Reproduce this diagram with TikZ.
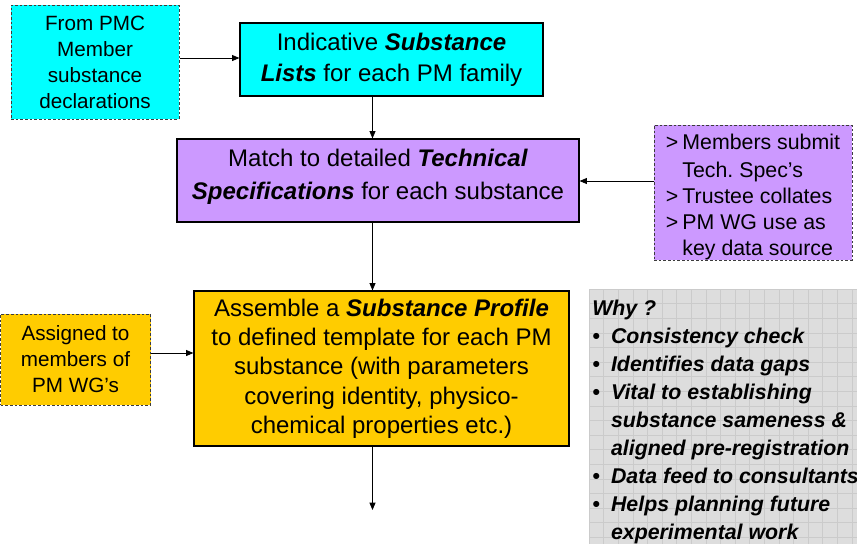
\documentclass[tikz,border=0pt]{standalone}
\usepackage{fontspec}
\setmainfont{Liberation Sans}
\usetikzlibrary{arrows.meta}

\definecolor{boxcyan}{RGB}{0,255,255}
\definecolor{boxlilac}{RGB}{204,153,255}
\definecolor{boxgold}{RGB}{255,204,0}
\definecolor{panelgrey}{RGB}{221,221,221}
\definecolor{gridgrey}{RGB}{203,203,203}
\definecolor{dashgrey}{RGB}{60,60,60}

\begin{document}
\begin{tikzpicture}[x=0.75pt,y=0.75pt,yscale=-1,xscale=1,
  mainbox/.style={draw=black, line width=0.9pt, align=center, inner sep=0pt, font=\fontsize{18}{23.5}\selectfont},
  notebox/.style={draw=dashgrey, line width=0.75pt, dash pattern={on 2pt off 1.5pt}, align=center, inner sep=0pt, font=\fontsize{15.5}{19.5}\selectfont},
  flow/.style={-{Triangle[length=5.5pt,width=4.5pt]}, line width=0.6pt}]
\useasboundingbox (0,0) rectangle (857,544);

%Shape: Grid panel
\fill[panelgrey] (589,289) rectangle (857,544);
\begin{scope}
\clip (589,289) rectangle (857,544);
\draw[gridgrey, line width=0.45pt, step=14.6, shift={(589,289)}] (0,0) grid (268,255);
\end{scope}

%Shape: Rectangle
\node[mainbox, fill=boxcyan, minimum width=227.25pt, minimum height=54.75pt] (sublists) at (391.5,59.5)
  {Indicative \textbf{\textit{Substance}}\\ \textbf{\textit{Lists}} for each PM family};
%Shape: Rectangle
\node[mainbox, fill=boxlilac, minimum width=301.5pt, minimum height=62.25pt, font=\fontsize{18}{24.5}\selectfont] (techspec) at (378,180.5)
  {Match to detailed \textbf{\textit{Technical}}\\ \textbf{\textit{Specifications}} for each substance\\[-15.5pt]};
%Shape: Rectangle
\node[mainbox, fill=boxgold, minimum width=281.25pt, minimum height=116.25pt, font=\fontsize{18}{22}\selectfont] (profile) at (381.5,368.5)
  {Assemble a \textbf{\textit{Substance Profile}}\\ to defined template for each PM\\ substance (with parameters\\ covering identity, physico-\\ chemical properties etc.)};

%Shape: Dashed Rectangle
\node[notebox, fill=boxcyan, minimum width=126pt, minimum height=85.5pt] (pmcdecl) at (95,62)
  {From PMC\\ Member\\ substance\\ declarations};
%Shape: Dashed Rectangle
\node[notebox, fill=boxlilac, minimum width=148.5pt, minimum height=101.25pt, font=\fontsize{16}{19.5}\selectfont] (membersub) at (753,192.5)
  {\raisebox{-3.5pt}[\height][\depth]{\begin{tabular}{@{}l@{\hspace{3pt}}l@{}}
  > & Members submit\\[1.5pt]
    & Tech.\ Spec’s\\
  > & Trustee collates\\
  > & PM WG use as\\
    & key data source
  \end{tabular}}};
%Shape: Dashed Rectangle
\node[notebox, fill=boxgold, minimum width=112.5pt, minimum height=68.25pt] (assigned) at (75.5,359.5)
  {Assigned to\\ members of\\ PM WG’s};

% Text Node
\node[anchor=north west, inner sep=0pt, align=left, font=\fontsize{16}{21}\selectfont\bfseries\itshape] (whylist) at (592,296)
  {\begin{tabular}{@{}l@{\hspace{8.5pt}}l@{}}
  \multicolumn{2}{@{}l}{Why ?}\\
  \textbullet & Consistency check\\
  \textbullet & Identifies data gaps\\
  \textbullet & Vital to establishing\\
              & substance sameness \&\\
              & aligned pre-registration\\
  \textbullet & Data feed to consultants\\
  \textbullet & Helps planning future\\
              & experimental work
  \end{tabular}};

\coordinate (spine) at (372.5,0);
\coordinate (flowend) at (372.5,510);

%Straight Lines
\draw[flow] (pmcdecl.east |- 0,58) -- (sublists.west |- 0,58);
\draw[flow] (sublists.south -| spine) -- (techspec.north -| spine);
\draw[flow] (techspec.south -| spine) -- (profile.north -| spine);
\draw[flow] (profile.south -| spine) -- (flowend);
\draw[flow] (membersub.west |- 0,181) -- (techspec.east |- 0,181);
\draw[flow] (assigned.east |- 0,353) -- (profile.west |- 0,353);

\end{tikzpicture}
\end{document}
